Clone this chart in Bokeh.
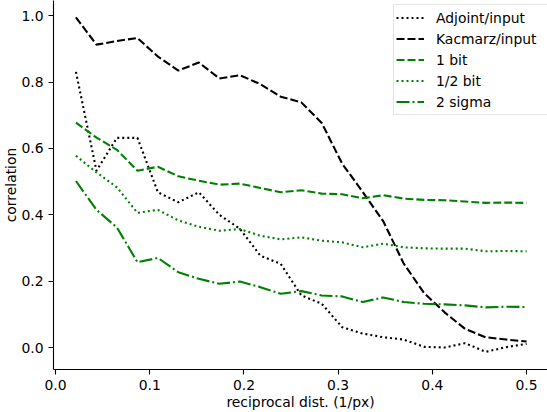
from bokeh.plotting import figure
from bokeh.models import Range1d, FixedTicker, Legend, LegendItem, PrintfTickFormatter, Title
from bokeh.embed import file_html
from bokeh.resources import INLINE

# reciprocal distance (1/px)
x_vals = [0.0217, 0.0435, 0.0652, 0.0870, 0.1087, 0.1304, 0.1522, 0.1739,
          0.1957, 0.2174, 0.2391, 0.2609, 0.2826, 0.3043, 0.3261, 0.3478,
          0.3696, 0.3913, 0.4130, 0.4348, 0.4565, 0.4783, 0.5000]

adjoint_input = [0.831, 0.533, 0.632, 0.632, 0.468, 0.438, 0.468, 0.400,
                 0.358, 0.277, 0.252, 0.157, 0.132, 0.061, 0.042, 0.031,
                 0.024, 0.002, 0.000, 0.013, -0.013, 0.001, 0.011]
kacmarz_input = [0.995, 0.913, 0.924, 0.933, 0.877, 0.835, 0.859, 0.811,
                 0.821, 0.794, 0.756, 0.739, 0.677, 0.554, 0.469, 0.381,
                 0.253, 0.164, 0.106, 0.056, 0.031, 0.024, 0.018]
one_bit = [0.678, 0.633, 0.596, 0.533, 0.545, 0.516, 0.503, 0.491,
           0.494, 0.481, 0.468, 0.474, 0.464, 0.462, 0.450, 0.459,
           0.449, 0.445, 0.444, 0.440, 0.436, 0.437, 0.436]
half_bit = [0.578, 0.528, 0.483, 0.406, 0.415, 0.383, 0.364, 0.352,
            0.357, 0.337, 0.326, 0.332, 0.322, 0.317, 0.302, 0.313,
            0.302, 0.299, 0.298, 0.298, 0.290, 0.291, 0.290]
two_sigma = [0.502, 0.415, 0.362, 0.257, 0.270, 0.227, 0.207, 0.192,
             0.199, 0.182, 0.162, 0.170, 0.157, 0.154, 0.137, 0.151,
             0.137, 0.132, 0.130, 0.127, 0.121, 0.123, 0.122]

series_names = ["Adjoint/input", "Kacmarz/input", "1 bit", "1/2 bit", "2 sigma"]
x_ticks = [0.0, 0.1, 0.2, 0.3, 0.4, 0.5]
y_ticks = [0.0, 0.2, 0.4, 0.6, 0.8, 1.0]
x_title = "reciprocal dist. (1/px)"
y_title = "correlation"

FONT = "DejaVu Sans"
FS = "13.9px"

p = figure(width=547, height=412, output_backend="svg", toolbar_location=None,
           x_range=Range1d(-0.0021, 0.5222), y_range=Range1d(-0.0663, 1.0461),
           min_border_left=51, min_border_right=0, min_border_top=0,
           min_border_bottom=43)
p.outline_line_color = None
p.xgrid.visible = False
p.ygrid.visible = False
p.background_fill_color = "white"
p.border_fill_color = "white"

styles = [
    (adjoint_input, "black", "2 3"),
    (kacmarz_input, "black", "8 3"),
    (one_bit, "#008000", "8 3"),
    (half_bit, "#008000", "2 3"),
    (two_sigma, "#008000", "13 3 2 3"),
]
items = []
for name, (ys, col, dash) in zip(series_names, styles):
    r = p.line(x_vals, ys, line_color=col, line_width=2.1, line_dash=dash)
    items.append(LegendItem(label=name, renderers=[r]))

for ax in (p.xaxis[0], p.yaxis[0]):
    ax.axis_line_color = "black"
    ax.axis_line_width = 1.1
    ax.major_tick_line_color = "black"
    ax.major_tick_line_width = 1.1
    ax.major_tick_out = 5
    ax.major_tick_in = 0
    ax.minor_tick_out = 0
    ax.minor_tick_in = 0
    ax.major_label_text_font = FONT
    ax.major_label_text_font_size = FS
    ax.major_label_text_color = "black"
    ax.axis_label_text_font = FONT
    ax.axis_label_text_font_size = FS
    ax.axis_label_text_font_style = "normal"
    ax.axis_label_text_color = "black"
    ax.formatter = PrintfTickFormatter(format="%.1f")

p.xaxis[0].ticker = FixedTicker(ticks=x_ticks)
p.yaxis[0].ticker = FixedTicker(ticks=y_ticks)
p.xaxis[0].axis_label = x_title
p.xaxis[0].major_label_standoff = 5
p.xaxis[0].axis_label_standoff = 1
p.yaxis[0].major_label_standoff = 5

# y-axis title as a side title in the left panel
ytitle = Title(text=y_title, align="center", text_font=FONT, text_font_size=FS,
               text_font_style="normal", text_color="black", standoff=0, offset=0)
p.add_layout(ytitle, "left")

legend = Legend(items=items, location=(340, 254))
legend.margin = 0
legend.padding = 2
legend.spacing = 0
legend.label_height = 21
legend.glyph_height = 21
legend.glyph_width = 28
legend.label_standoff = 12
legend.label_width = 110
legend.label_text_font = FONT
legend.label_text_font_size = FS
legend.label_text_color = "black"
legend.border_line_color = "#cccccc"
legend.border_line_width = 1
legend.background_fill_color = "white"
legend.background_fill_alpha = 0.8
p.add_layout(legend, "center")

open("out.html", "w").write(file_html(p, INLINE))
